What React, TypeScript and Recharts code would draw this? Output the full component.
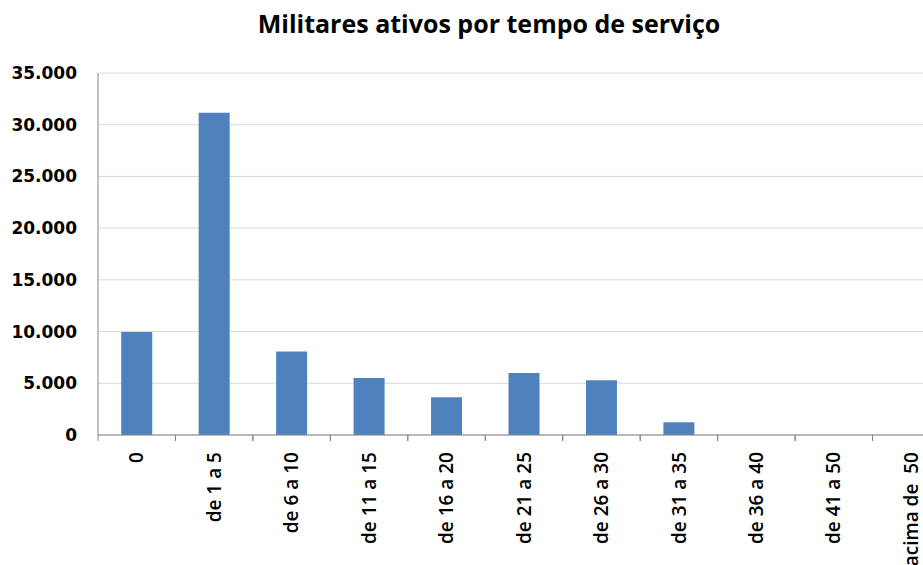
import React from 'react';
import { BarChart, Bar, XAxis, YAxis, CartesianGrid } from 'recharts';

const categories = [
  '0',
  'de 1 a 5',
  'de 6 a 10',
  'de 11 a 15',
  'de 16 a 20',
  'de 21 a 25',
  'de 26 a 30',
  'de 31 a 35',
  'de 36 a 40',
  'de 41 a 50',
  'acima de  50',
];
const militares = [9950, 31150, 8080, 5520, 3650, 6000, 5290, 1230, 0, 0, 0];
const yTicks = [0, 5000, 10000, 15000, 20000, 25000, 30000, 35000];

const data = categories.map((faixa, i) => ({ faixa, militares: militares[i] }));

const fmt = (v: number) => String(v).replace(/\B(?=(\d{3})+(?!\d))/g, '.');

const CategoryTick = (props: any) => {
  const { x, y, payload } = props;
  const half = payload.offset || 0;
  return (
    <g>
      <line x1={x - half} y1={y - 8} x2={x - half} y2={y - 2} stroke="#868686" />
      <line x1={x + half} y1={y - 8} x2={x + half} y2={y - 2} stroke="#868686" />
      <text
        x={x}
        y={y + 9}
        dy="0.35em"
        transform={`rotate(-90, ${x}, ${y + 9})`}
        textAnchor="end"
        fontFamily="'Open Sans', sans-serif"
        fontWeight={600}
        fontSize={19}
        fill="#000"
        style={{ whiteSpace: 'pre' }}
      >
        {payload.value}
      </text>
    </g>
  );
};

export default function App() {
  return (
    <div
      style={{
        position: 'fixed',
        left: 0,
        top: 0,
        width: 923,
        height: 565,
        overflow: 'hidden',
        background: '#fff',
      }}
    >
      <div
        style={{
          position: 'absolute',
          left: 0,
          top: 6,
          width: 978,
          textAlign: 'center',
          fontFamily: "'Open Sans', sans-serif",
          fontWeight: 700,
          fontSize: 25,
          color: '#000',
        }}
      >
        Militares ativos por tempo de serviço
      </div>
      <BarChart
        width={960}
        height={565}
        data={data}
        margin={{ top: 73, right: 10, left: 0, bottom: 0 }}
        barCategoryGap="30%"
      >
        <CartesianGrid vertical={false} stroke="#d9d9d9" />
        <XAxis
          dataKey="faixa"
          interval={0}
          height={130}
          stroke="#868686"
          tickLine={false}
          tick={<CategoryTick />}
        />
        <YAxis
          width={98}
          domain={[0, 35000]}
          ticks={yTicks}
          tickFormatter={fmt}
          stroke="#868686"
          tickLine={false}
          tickMargin={15}
          tick={{ fill: '#000', fontFamily: "'DejaVu Sans', sans-serif", fontWeight: 700, fontSize: 17 }}
        />
        <Bar dataKey="militares" fill="#4f81bd" isAnimationActive={false} />
      </BarChart>
    </div>
  );
}
